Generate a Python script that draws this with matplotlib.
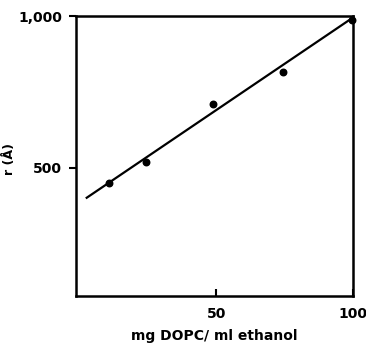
import numpy as np
import matplotlib
matplotlib.use('Agg')
import matplotlib.pyplot as plt

# данные
conc = [10.9, 24.3, 49.0, 74.5, 99.7]        # mg DOPC / ml ethanol
radius = [451, 519, 710, 816, 987]           # r (A)
fit_x = [2.7, 100]
fit_y = [401, 995]

xticks = [50, 100]
yticks = [500, 1000]
yticklabels = ['500', '1,000']

plt.rcParams['font.family'] = 'DejaVu Sans'
plt.rcParams['font.weight'] = 'bold'

fig = plt.figure(figsize=(3.66, 3.43), dpi=100)
ax = fig.add_axes([0.207, 0.137, 0.757, 0.816])

ax.plot(fit_x, fit_y, color='black', lw=1.6)
ax.scatter(conc, radius, color='black', s=22, zorder=3, clip_on=False)

ax.set_xlim(-1.3, 100)
ax.set_ylim(77, 1000)

ax.set_xticks(xticks)
ax.set_yticks(yticks)
ax.set_yticklabels(yticklabels)
ax.tick_params(axis='x', direction='in', length=5, width=1.5, labelsize=10, pad=8)
ax.tick_params(axis='y', direction='out', length=5, width=1.5, labelsize=10, pad=5)
for s in ax.spines.values():
    s.set_linewidth(1.8)

ax.set_xlabel('mg DOPC/ ml ethanol', fontsize=10, fontweight='bold', labelpad=6)
ax.set_ylabel('r (Å)', fontsize=9, fontweight='bold')
ax.yaxis.set_label_coords(-0.215, 0.49)

fig.savefig('out.png', dpi=100)
